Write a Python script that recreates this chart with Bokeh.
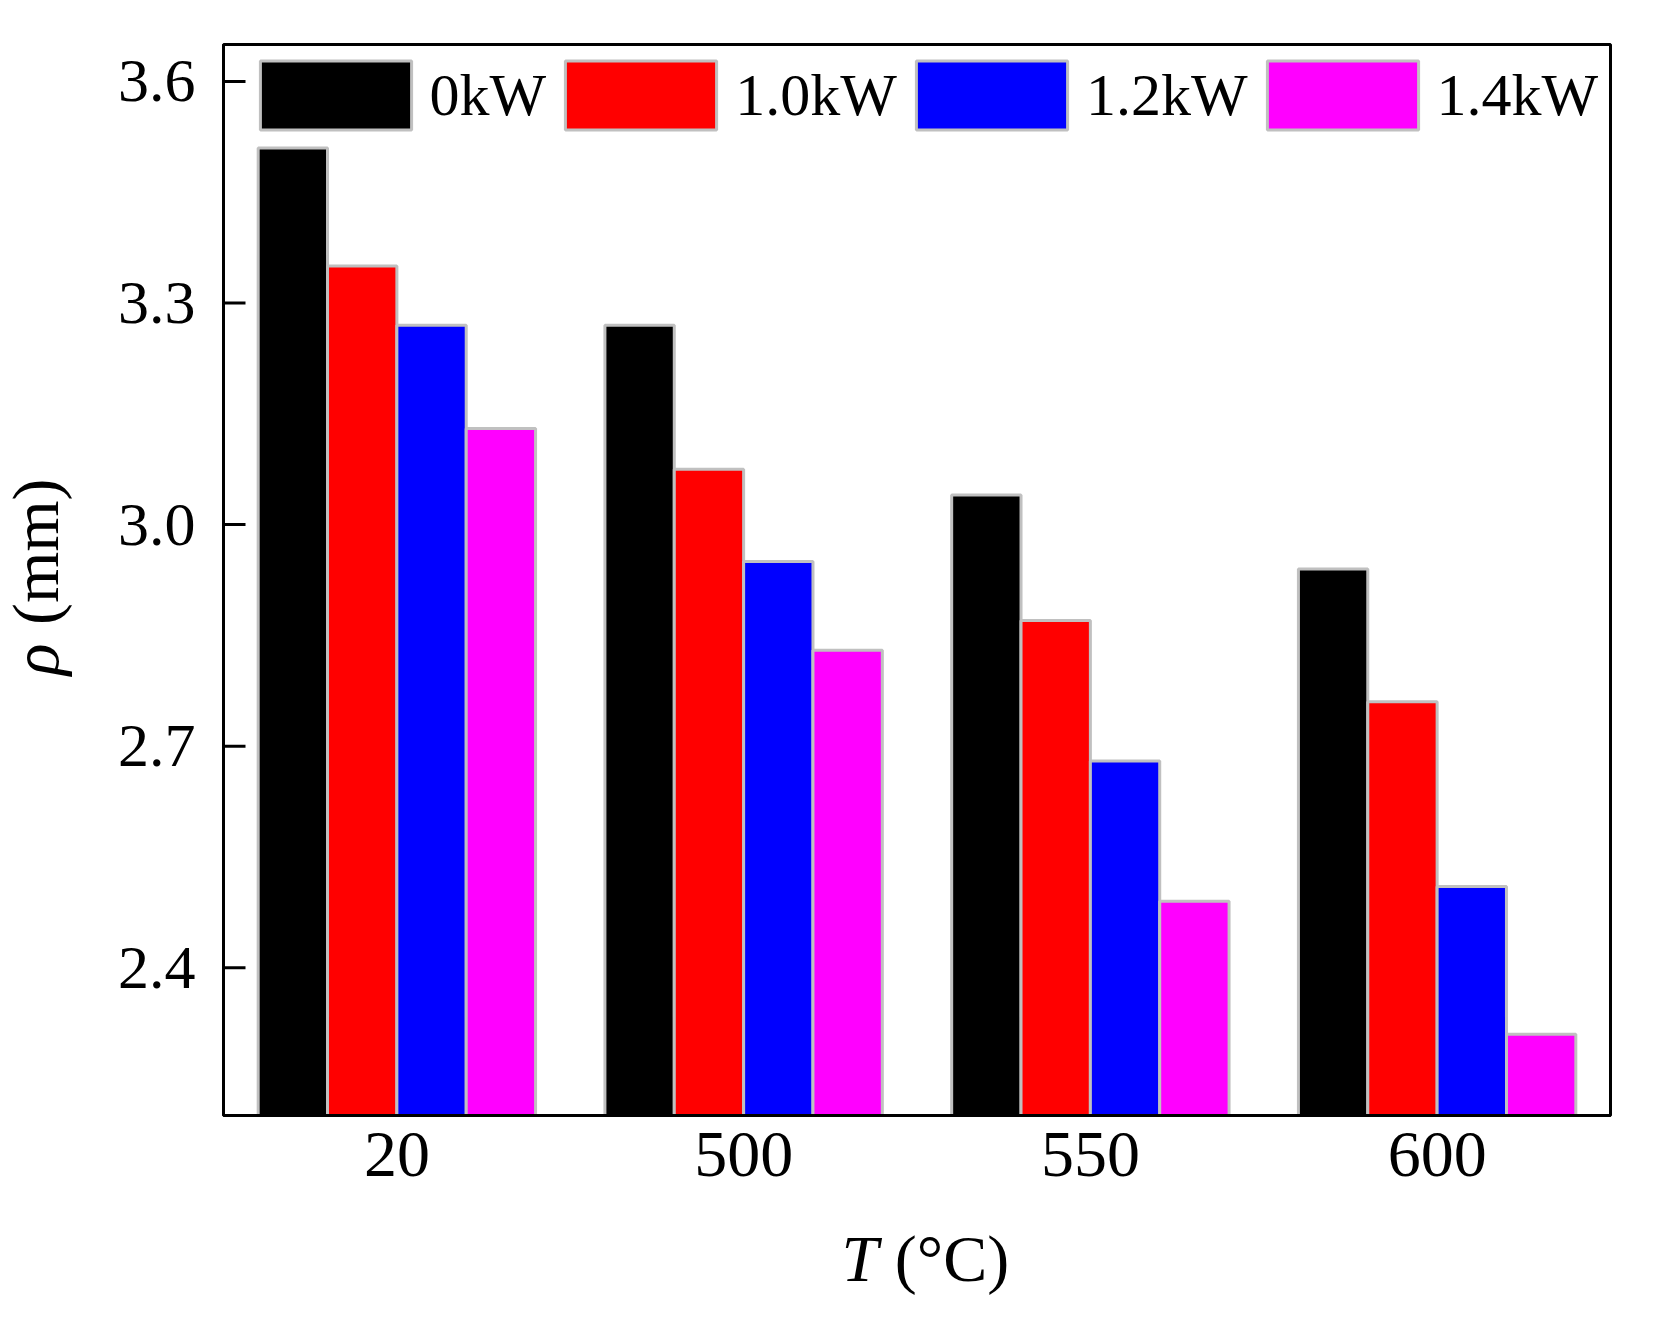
from math import pi
from bokeh.plotting import figure
from bokeh.models import (ColumnDataSource, FactorRange, FixedTicker, Label,
                          Legend, LegendItem, Range1d)
from bokeh.transform import dodge
from bokeh.embed import file_html
from bokeh.resources import INLINE

# ---- data ----
temperatures = ["20", "500", "550", "600"]
power_labels = ["0kW", "1.0kW", "1.2kW", "1.4kW"]
rho_0kW = [3.51, 3.27, 3.04, 2.94]
rho_1_0kW = [3.35, 3.075, 2.87, 2.76]
rho_1_2kW = [3.27, 2.95, 2.68, 2.51]
rho_1_4kW = [3.13, 2.83, 2.49, 2.31]
y_ticks = [2.4, 2.7, 3.0, 3.3, 3.6]
y_tick_labels = ["2.4", "2.7", "3.0", "3.3", "3.6"]
bar_colors = ["#000000", "#ff0000", "#0000ff", "#ff00ff"]

series = [rho_0kW, rho_1_0kW, rho_1_2kW, rho_1_4kW]
keys = ["p0", "p1", "p2", "p3"]
data = {"T": temperatures}
for k, s in zip(keys, series):
    data[k] = s
source = ColumnDataSource(data)

FONT = "Liberation Serif"

p = figure(x_range=FactorRange(factors=temperatures),
           y_range=Range1d(2.2, 3.65),
           width=1650, height=1312,
           output_backend="svg", toolbar_location=None,
           min_border_left=223, min_border_right=40,
           min_border_top=44, min_border_bottom=197,
           background_fill_color="white", border_fill_color="white")

# inward y ticks (drawn from the left frame edge)
tick_src = ColumnDataSource(dict(x=[0.0] * len(y_ticks), y=y_ticks))
p.ray(x="x", y="y", source=tick_src, length=22, length_units="screen",
      angle=0, line_color="black", line_width=3)

offsets = [-0.3, -0.1, 0.1, 0.3]
renderers = []
for k, off, col in zip(keys, offsets, bar_colors):
    r = p.vbar(x=dodge("T", off, range=p.x_range), top=k, bottom=0, width=0.2,
               source=source, fill_color=col, line_color="#c0c0c0", line_width=3)
    renderers.append(r)

legend = Legend(items=[LegendItem(label=lab, renderers=[r])
                       for lab, r in zip(power_labels, renderers)],
                orientation="horizontal", location=(17.6, 977),
                padding=0, margin=0, spacing=0, label_standoff=0,
                glyph_width=189, glyph_height=86, label_height=86,
                border_line_color=None, background_fill_alpha=0,
                label_text_font=FONT, label_text_font_size="60px",
                label_text_color="black")
p.add_layout(legend)

p.grid.visible = False
p.outline_line_color = "black"
p.outline_line_width = 3
p.outline_line_alpha = 1

for ax in (p.xaxis[0], p.yaxis[0]):
    ax.axis_line_color = "black"
    ax.axis_line_width = 3
    ax.major_label_text_font = FONT
    ax.major_label_text_color = "black"
    ax.minor_tick_line_color = None
    ax.major_tick_line_color = None
    ax.major_tick_in = 0
    ax.major_tick_out = 0

p.xaxis.major_label_text_font_size = "66px"
p.xaxis.major_label_standoff = 17

p.yaxis.ticker = FixedTicker(ticks=y_ticks, minor_ticks=[])
p.yaxis.major_label_overrides = dict(zip(y_ticks, y_tick_labels))
p.yaxis.major_label_text_font_size = "62px"
p.yaxis.major_label_standoff = 28

# axis titles (italic symbol + upright unit); they are positioned in data
# coordinates, the side panel only decides where they are allowed to draw
lab_kw = dict(text_font=FONT, text_font_size="66px", text_color="black",
              text_align="left", text_baseline="alphabetic")
p.add_layout(Label(x=1.782, y=2.006, text="T", text_font_style="italic", **lab_kw), "left")
p.add_layout(Label(x=1.936, y=2.006, text="(°C)", **lab_kw), "below")
p.add_layout(Label(x=-0.542, y=2.796, text="ρ", angle=pi / 2,
                   text_font_style="italic", **lab_kw), "below")
p.add_layout(Label(x=-0.542, y=2.864, text="(mm)", angle=pi / 2, **lab_kw), "left")

open("out.html", "w").write(file_html(p, INLINE))
